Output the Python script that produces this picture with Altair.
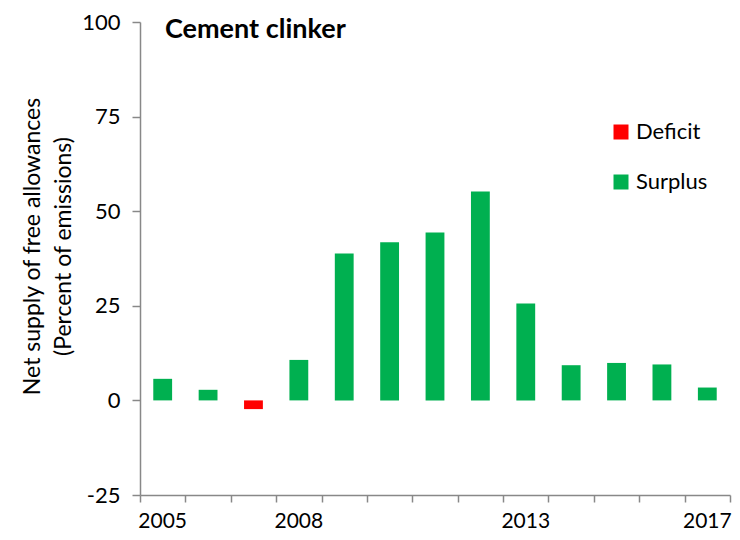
import altair as alt
import pandas as pd

years = ["2005", "2006", "2007", "2008", "2009", "2010", "2011", "2012", "2013", "2014", "2015", "2016", "2017"]
values = [5.7, 2.8, -2.3, 10.7, 38.8, 41.8, 44.4, 55.2, 25.6, 9.3, 9.9, 9.5, 3.4]
kinds = ["Surplus", "Surplus", "Deficit", "Surplus", "Surplus", "Surplus", "Surplus", "Surplus", "Surplus", "Surplus", "Surplus", "Surplus", "Surplus"]
shown_labels = ["2005", "2008", "2013", "2017"]
y_ticks = [-25, 0, 25, 50, 75, 100]

df = pd.DataFrame({"year": years, "value": values, "kind": kinds})

FONT = "Lato"
xscale = alt.Scale(paddingInner=0, paddingOuter=0)
label_expr = "indexof([" + ",".join("'%s'" % s for s in shown_labels) + "], datum.label) >= 0 ? datum.label : ''"

bars = alt.Chart(df).mark_bar(width=alt.RelativeBandSize(0.415)).encode(
    x=alt.X("year:O", sort=years, scale=xscale,
            axis=alt.Axis(title=None, labels=False, tickBand="extent", orient="bottom",
                          tickSize=7, tickColor="#888", domainColor="#888",
                          domainWidth=1.5, tickWidth=1.5)),
    y=alt.Y("value:Q", scale=alt.Scale(domain=[-25, 100], nice=False),
            axis=alt.Axis(values=y_ticks, grid=False,
                          labelExpr="datum.value + ''",
                          title=["Net supply of free allowances", "(Percent of emissions)"],
                          titleFontSize=23, titleFont=FONT, titleFontWeight="normal",
                          titleColor="#000", titlePadding=6, titleLineHeight=31, titleY=224,
                          labelFontSize=22, labelFont=FONT, labelColor="#000", labelPadding=12,
                          tickSize=8, tickColor="#888", domainColor="#888",
                          domainWidth=1.5, tickWidth=1.5)),
    color=alt.Color("kind:N",
                    scale=alt.Scale(domain=["Deficit", "Surplus"], range=["#FF0000", "#00B050"]),
                    legend=alt.Legend(title=None, orient="none", legendX=470, legendY=99,
                                      symbolType="square", symbolSize=225, symbolStrokeWidth=0,
                                      labelFontSize=22, labelFont=FONT, labelColor="#000",
                                      labelOffset=4, rowPadding=28, padding=0)),
)

labels_layer = alt.Chart(df).mark_bar(opacity=0).encode(
    x=alt.X("year:O", sort=years, scale=xscale,
            axis=alt.Axis(title=None, labelAngle=0, ticks=False, domain=False, orient="bottom",
                          labelExpr=label_expr,
                          labelFontSize=21, labelFont=FONT, labelColor="#000",
                          labelPadding=15)),
    y=alt.Y("value:Q"),
)

title = alt.Chart(pd.DataFrame({"t": ["Cement clinker"]})).mark_text(
    align="left", baseline="middle", fontSize=27, fontWeight="bold", font=FONT, color="#000"
).encode(text="t:N", x=alt.value(25), y=alt.value(8))

chart = alt.layer(bars, labels_layer, title).resolve_axis(x="independent").properties(
    width=590, height=473,
    autosize=alt.AutoSizeParams(type="none"),
    padding={"left": 132, "top": 14, "right": 2, "bottom": 37},
).configure_view(stroke=None)

chart.save("out.html", embed_options={"renderer": "svg", "actions": False})
